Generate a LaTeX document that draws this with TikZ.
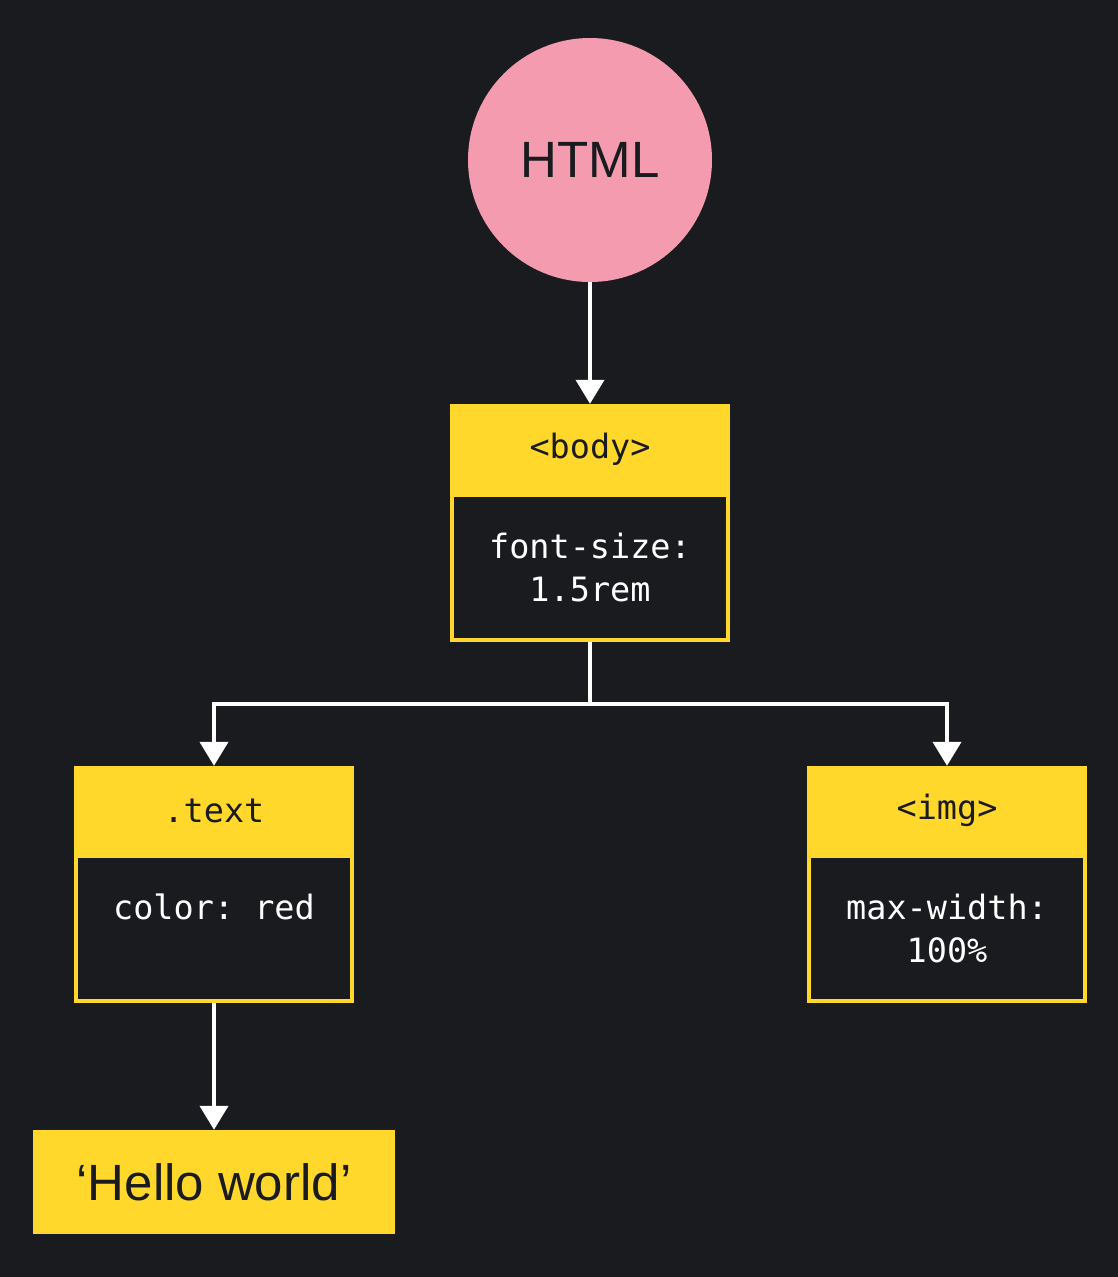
\documentclass[tikz,border=0pt]{standalone}
\usepackage{fontspec}
\setmainfont{Liberation Sans}
\newfontfamily\codefont{DejaVu Sans Mono}
\usetikzlibrary{arrows.meta,calc}
\definecolor{bgc}{HTML}{1A1B1F}
\definecolor{ylw}{HTML}{FFD82B}
\definecolor{pnk}{HTML}{F49BB0}
\tikzset{
  outerbox/.style={fill=ylw, minimum width=280pt, minimum height=238pt, inner sep=0pt},
  innerbox/.style={fill=bgc, minimum width=272pt, minimum height=141pt, inner sep=0pt},
  hdr/.style={text=bgc, font=\codefont\frenchspacing\fontsize{33.5}{38}\selectfont, inner sep=0pt},
  codetxt/.style={text=white, font=\codefont\frenchspacing\fontsize{33.5}{43}\selectfont, align=center, inner sep=0pt},
  conn/.style={draw=white, line width=4pt},
  arr/.style={conn, -{Triangle[width=28pt,length=24pt,fill=white]}},
}
\begin{document}
\begin{tikzpicture}[x=1pt,y=-1pt]
\fill[bgc] (0,0) rectangle (1118,1277);
\useasboundingbox (0,0) rectangle (1118,1277);

% HTML circle
\node[circle, fill=pnk, minimum size=244pt, inner sep=0pt, text=bgc,
      font=\fontsize{51}{58}\selectfont] (html) at (590,160) {HTML};

% body box
\node[outerbox] (body) at (590,523) {};
\node[innerbox, anchor=south] (bodyin) at ([yshift=4pt]body.south) {};
\node[hdr] (bodyh) at ([yshift=-45pt]body.north) {<body>};
\node[codetxt] (bodyt) at (bodyin) {font-size:\\1.5rem};

% .text box
\node[outerbox, minimum height=237pt] (textbox) at (214,884.5) {};
\node[innerbox] (textin) at (214,928.5) {};
\node[hdr] (texth) at ([yshift=-45pt]textbox.north) {.text};
\node[codetxt] (textt) at (214,907) {color: red};

% img box
\node[outerbox, minimum height=237pt] (imgbox) at (947,884.5) {};
\node[innerbox] (imgin) at (947,928.5) {};
\node[hdr] (imgh) at ([yshift=-45pt]imgbox.north) {<img>};
\node[codetxt] (imgt) at (imgin) {max-width:\\100\%};

% Hello world
\node[fill=ylw, minimum width=362pt, minimum height=104pt, inner sep=0pt, text=bgc,
      font=\fontsize{51}{58}\selectfont] (hello) at (214,1182) {‘Hello world’};

% connectors
\coordinate (split) at (590,704);
\draw[arr] (html.south) -- (body.north);
\draw[conn] (body.south) -- (split);
\draw[arr] (split) -| (textbox.north);
\draw[arr] (split) -| (imgbox.north);
\draw[arr] (textbox.south) -- (hello.north);
\end{tikzpicture}
\end{document}
